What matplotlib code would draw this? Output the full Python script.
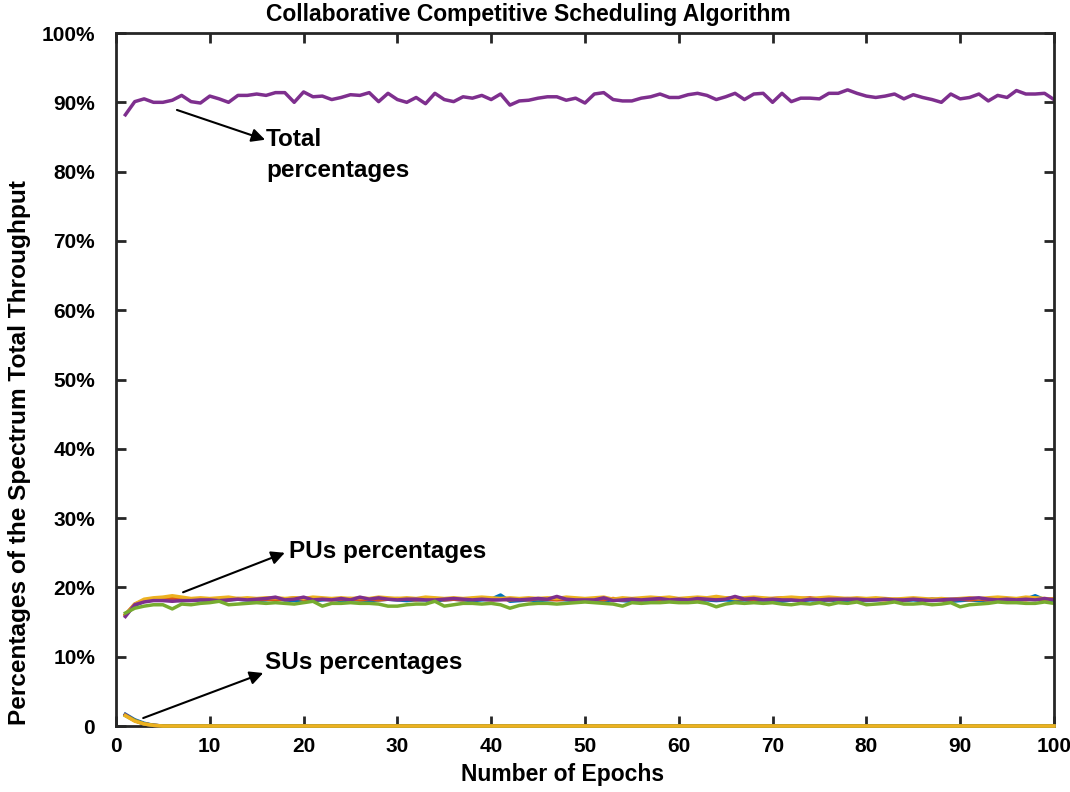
import numpy as np
from matplotlib import pyplot as plt
from matplotlib.ticker import FuncFormatter


#(0) Data:
epochs = np.arange(1, 101)

total = [0.882, 0.901, 0.905, 0.900, 0.900, 0.903, 0.910, 0.901, 0.899, 0.909,
         0.905, 0.900, 0.910, 0.910, 0.912, 0.910, 0.914, 0.914, 0.900, 0.915,
         0.908, 0.909, 0.904, 0.907, 0.911, 0.910, 0.914, 0.901, 0.913, 0.904,
         0.900, 0.907, 0.898, 0.913, 0.904, 0.901, 0.908, 0.906, 0.910, 0.904,
         0.912, 0.896, 0.902, 0.903, 0.906, 0.908, 0.908, 0.903, 0.906, 0.899,
         0.912, 0.914, 0.904, 0.902, 0.902, 0.906, 0.908, 0.912, 0.907, 0.907,
         0.911, 0.913, 0.910, 0.904, 0.908, 0.913, 0.904, 0.912, 0.913, 0.900,
         0.913, 0.901, 0.906, 0.906, 0.905, 0.913, 0.913, 0.918, 0.913, 0.909,
         0.907, 0.909, 0.912, 0.905, 0.911, 0.907, 0.904, 0.900, 0.912, 0.905,
         0.907, 0.912, 0.902, 0.910, 0.907, 0.917, 0.912, 0.912, 0.913, 0.904]

pu_blue = [0.160, 0.174, 0.180, 0.182, 0.182, 0.182, 0.181, 0.182, 0.182, 0.181,
           0.182, 0.182, 0.183, 0.182, 0.181, 0.182, 0.184, 0.182, 0.181, 0.182,
           0.181, 0.182, 0.183, 0.181, 0.182, 0.182, 0.181, 0.182, 0.183, 0.182,
           0.181, 0.182, 0.182, 0.181, 0.182, 0.183, 0.182, 0.181, 0.182, 0.183,
           0.189, 0.180, 0.181, 0.182, 0.181, 0.182, 0.183, 0.182, 0.181, 0.182,
           0.182, 0.181, 0.182, 0.181, 0.180, 0.182, 0.181, 0.182, 0.181, 0.182,
           0.182, 0.180, 0.182, 0.181, 0.182, 0.181, 0.182, 0.181, 0.182, 0.181,
           0.180, 0.182, 0.181, 0.182, 0.182, 0.181, 0.182, 0.181, 0.182, 0.181,
           0.182, 0.183, 0.182, 0.181, 0.182, 0.181, 0.183, 0.182, 0.180, 0.181,
           0.182, 0.181, 0.182, 0.183, 0.182, 0.182, 0.183, 0.188, 0.182, 0.181]

pu_orange = [0.161, 0.176, 0.181, 0.183, 0.183, 0.184, 0.183, 0.182, 0.183, 0.182,
             0.183, 0.182, 0.184, 0.183, 0.182, 0.183, 0.182, 0.183, 0.185, 0.183,
             0.182, 0.183, 0.182, 0.183, 0.184, 0.182, 0.183, 0.182, 0.183, 0.184,
             0.183, 0.182, 0.183, 0.184, 0.182, 0.183, 0.182, 0.184, 0.183, 0.182,
             0.183, 0.182, 0.183, 0.182, 0.184, 0.183, 0.182, 0.183, 0.182, 0.183,
             0.183, 0.182, 0.184, 0.182, 0.183, 0.182, 0.184, 0.183, 0.185, 0.183,
             0.182, 0.183, 0.184, 0.183, 0.185, 0.184, 0.183, 0.182, 0.183, 0.184,
             0.185, 0.183, 0.184, 0.185, 0.183, 0.182, 0.183, 0.184, 0.183, 0.182,
             0.183, 0.182, 0.183, 0.182, 0.183, 0.182, 0.183, 0.182, 0.182, 0.183,
             0.182, 0.183, 0.182, 0.183, 0.182, 0.183, 0.182, 0.184, 0.182, 0.184]

pu_yellow = [0.160, 0.176, 0.183, 0.185, 0.186, 0.188, 0.186, 0.184, 0.185, 0.184,
             0.185, 0.186, 0.184, 0.185, 0.184, 0.185, 0.185, 0.184, 0.185, 0.184,
             0.186, 0.185, 0.184, 0.185, 0.184, 0.185, 0.184, 0.186, 0.185, 0.184,
             0.185, 0.184, 0.186, 0.185, 0.184, 0.185, 0.184, 0.185, 0.186, 0.185,
             0.184, 0.185, 0.184, 0.185, 0.184, 0.185, 0.184, 0.186, 0.185, 0.184,
             0.185, 0.186, 0.183, 0.185, 0.184, 0.185, 0.186, 0.185, 0.186, 0.184,
             0.185, 0.186, 0.185, 0.187, 0.185, 0.184, 0.185, 0.186, 0.185, 0.184,
             0.185, 0.186, 0.185, 0.184, 0.185, 0.186, 0.185, 0.184, 0.185, 0.184,
             0.185, 0.184, 0.183, 0.184, 0.185, 0.184, 0.183, 0.184, 0.183, 0.184,
             0.185, 0.184, 0.185, 0.186, 0.185, 0.184, 0.186, 0.185, 0.184, 0.183]

pu_purple = [0.158, 0.175, 0.179, 0.181, 0.181, 0.180, 0.181, 0.181, 0.182, 0.182,
             0.181, 0.182, 0.183, 0.182, 0.183, 0.184, 0.186, 0.182, 0.183, 0.186,
             0.182, 0.183, 0.182, 0.184, 0.182, 0.186, 0.183, 0.185, 0.183, 0.182,
             0.183, 0.183, 0.182, 0.182, 0.183, 0.184, 0.183, 0.182, 0.183, 0.182,
             0.182, 0.183, 0.182, 0.183, 0.184, 0.183, 0.187, 0.183, 0.182, 0.182,
             0.182, 0.185, 0.181, 0.182, 0.183, 0.182, 0.183, 0.184, 0.182, 0.183,
             0.182, 0.184, 0.183, 0.182, 0.183, 0.187, 0.183, 0.184, 0.182, 0.183,
             0.182, 0.182, 0.181, 0.183, 0.182, 0.183, 0.183, 0.183, 0.183, 0.182,
             0.182, 0.183, 0.182, 0.182, 0.183, 0.182, 0.181, 0.182, 0.183, 0.183,
             0.184, 0.185, 0.183, 0.182, 0.183, 0.182, 0.183, 0.182, 0.184, 0.182]

pu_green = [0.163, 0.170, 0.173, 0.175, 0.175, 0.169, 0.176, 0.175, 0.177, 0.178,
            0.180, 0.175, 0.176, 0.177, 0.178, 0.177, 0.178, 0.177, 0.176, 0.178,
            0.180, 0.173, 0.177, 0.177, 0.178, 0.177, 0.177, 0.176, 0.173, 0.173,
            0.175, 0.176, 0.176, 0.180, 0.173, 0.175, 0.177, 0.177, 0.176, 0.177,
            0.175, 0.170, 0.174, 0.176, 0.177, 0.177, 0.176, 0.177, 0.178, 0.179,
            0.178, 0.177, 0.176, 0.173, 0.178, 0.177, 0.178, 0.178, 0.179, 0.178,
            0.178, 0.179, 0.177, 0.172, 0.176, 0.178, 0.177, 0.178, 0.177, 0.178,
            0.176, 0.175, 0.177, 0.176, 0.178, 0.175, 0.178, 0.177, 0.179, 0.175,
            0.176, 0.177, 0.179, 0.176, 0.176, 0.177, 0.175, 0.176, 0.178, 0.172,
            0.175, 0.176, 0.177, 0.179, 0.178, 0.178, 0.177, 0.177, 0.179, 0.177]

# SUs: non-zero only over the first epochs, zero afterwards
su_blue   = [0.017, 0.009, 0.004, 0.001, 0.0] + [0.0]*95
su_orange = [0.016, 0.008, 0.003, 0.001, 0.0] + [0.0]*95
su_purple = [0.016, 0.008, 0.003, 0.001, 0.0] + [0.0]*95
su_green  = [0.015, 0.008, 0.003, 0.001, 0.0] + [0.0]*95
su_yellow = [0.015, 0.007, 0.003, 0.001, 0.0] + [0.0]*95

yticks = np.arange(0, 1.01, 0.1)
xticks = np.arange(0, 101, 10)



#(1) Plot:
plt.close('all')
plt.rcParams['font.family'] = ['Liberation Sans', 'DejaVu Sans']
plt.rcParams['font.weight'] = 'bold'

cb, co, cy, cp, cg = '#0072BD', '#D95319', '#EDB120', '#7E2F8E', '#77AC30'
axc = '#262626'
lw  = 2.5

fig = plt.figure(figsize=(10.7, 7.92), dpi=100)
ax  = fig.add_axes([0.1084, 0.0833, 0.8766, 0.875])

ax.plot(epochs, total, color=cp, lw=lw)
for y, c in zip([pu_blue, pu_orange, pu_yellow, pu_purple, pu_green], [cb, co, cy, cp, cg]):
	ax.plot(epochs, y, color=c, lw=lw)
for y, c in zip([su_blue, su_orange, su_purple, su_green, su_yellow], [cb, co, cp, cg, cy]):
	ax.plot(epochs, y, color=c, lw=lw, clip_on=False, zorder=3)

ax.set_xlim(0, 100)
ax.set_ylim(0, 1)
ax.set_xticks(xticks)
ax.set_yticks(yticks)
ax.yaxis.set_major_formatter(FuncFormatter(lambda v, p: '0' if v < 1e-9 else '%d%%' % round(v*100)))

for s in ax.spines.values():
	s.set_linewidth(2.0)
	s.set_color(axc)
ax.tick_params(direction='in', length=7, width=2.0, color=axc, labelsize=15,
               top=True, right=True)
ax.tick_params(axis='y', pad=15)
ax.tick_params(axis='x', pad=8)
for lab in ax.get_xticklabels() + ax.get_yticklabels():
	lab.set_fontweight('bold')

#axis labels and title (positions as in the original figure):
fig.text(563/1070, 1-775/792, 'Number of Epochs', fontsize=16.5, fontweight='bold',
         ha='center', va='center')
fig.text(20/1070, 1-453/792, 'Percentages of the Spectrum Total Throughput', fontsize=17.6,
         fontweight='bold', ha='center', va='center', rotation=90)
fig.text(528/1070, 1-15/792, 'Collaborative Competitive Scheduling Algorithm', fontsize=16.5,
         fontweight='bold', ha='center', va='center')

#annotations:
ap = dict(arrowstyle='-|>', color='k', lw=1.5, mutation_scale=20, shrinkA=0, shrinkB=0)
tsize = 17.5
ax.annotate('', xy=(15.9, 0.846), xytext=(6.5, 0.889), arrowprops=ap)
ax.text(16.0, 0.846, 'Total', fontsize=tsize, fontweight='bold', va='center', ha='left')
ax.text(16.0, 0.801, 'percentages', fontsize=tsize, fontweight='bold', va='center', ha='left')
ax.annotate('', xy=(18.0, 0.250), xytext=(7.15, 0.193), arrowprops=ap)
ax.text(18.4, 0.2525, 'PUs percentages', fontsize=tsize, fontweight='bold', va='center', ha='left')
ax.annotate('', xy=(15.7, 0.0765), xytext=(2.9, 0.0115), arrowprops=ap)
ax.text(15.9, 0.091, 'SUs percentages', fontsize=tsize, fontweight='bold', va='center', ha='left')

plt.savefig('out.png', dpi=100)
